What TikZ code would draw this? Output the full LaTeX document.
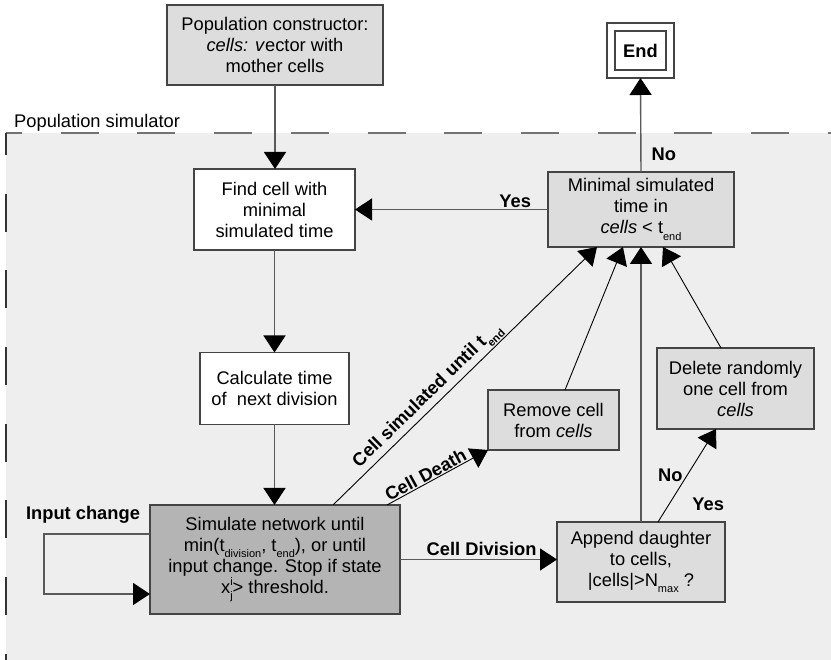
\documentclass[tikz,border=0pt]{standalone}
\usepackage{fontspec}
\setmainfont{Liberation Sans}
\usetikzlibrary{arrows.meta,calc}
\definecolor{bgc}{HTML}{EEEEEE}
\definecolor{boxl}{HTML}{DDDDDD}
\definecolor{boxd}{HTML}{B4B4B4}
\definecolor{edge}{HTML}{444444}
\newcommand{\lsub}[1]{\raisebox{-0.35em}{\fontsize{11}{11}\selectfont #1}}
\newcommand{\lsup}[1]{\raisebox{0.45em}{\fontsize{11}{11}\selectfont #1}}
\begin{document}
\begin{tikzpicture}[x=1pt,y=-1pt,
  font=\fontsize{18.3}{21}\selectfont,
  box/.style={draw=edge,line width=1.3pt,align=center,inner sep=0pt,outer sep=0pt},
  conn/.style={draw=black!65,line width=1.4pt,-{Triangle[length=17pt,width=22pt,color=black]}},
  thin/.style={draw=black,line width=0.9pt,-{Triangle[length=17pt,width=22pt,color=black]}},
  lbl/.style={font=\fontsize{18.3}{21}\selectfont\bfseries,inner sep=1pt}]
\useasboundingbox (0,0) rectangle (831,660);
% simulator area
\fill[bgc] (6,133) rectangle (831,660);
\draw[black!55,line width=1.6pt,dash pattern=on 38pt off 38.7pt,dash phase=22pt] (6,133) -- (831,133);
\draw[black!80,line width=1.6pt,dash pattern=on 38pt off 38.7pt,dash phase=16pt] (6,133) -- (6,660);
\node[anchor=west,inner sep=0pt] (psim) at (14,123) {Population simulator};
% nodes
\node[box,fill=boxl,minimum width=216,minimum height=80] (pop) at (275,45)
  {Population constructor:\\\textit{cells: v}ector with\\mother cells};
\node[box,fill=white,minimum width=67,minimum height=55] (endo) at (640.5,50.5) {};
\node[box,fill=white,minimum width=51,minimum height=39,font=\fontsize{18.3}{21}\selectfont\bfseries] (endi) at (endo.center) {End};
\node[box,fill=boxl,minimum width=186,minimum height=75] (minst) at (641,209.5)
  {Minimal simulated\\time in\\\textit{cells} < t\lsub{end}};
\node[box,fill=white,minimum width=161,minimum height=81] (find) at (274.5,209.5)
  {Find cell with\\minimal\\simulated time};
\node[box,fill=white,minimum width=149,minimum height=72] (calc) at (274.5,388.5)
  {Calculate time\\of~ next division};
\node[box,fill=boxd,minimum width=250,minimum height=109] (sim) at (275,559.5)
  {Simulate network until\\min(t\lsub{division}, t\lsub{end}), or until\\input change. Stop if state\\x\rlap{\lsup{i}}\lsub{j}> threshold.};
\node[box,fill=boxl,minimum width=131,minimum height=60] (rem) at (553.5,420)
  {Remove cell\\from \textit{cells}};
\node[box,fill=boxl,minimum width=157,minimum height=81] (del) at (735.5,388.5)
  {Delete randomly\\one cell from\\\textit{cells}};
\node[box,fill=boxl,minimum width=168,minimum height=80] (app) at (641,562)
  {Append daughter\\to cells,\\|cells|>N\lsub{max} ?};
% connectors
\draw[conn] (pop.south) -- (pop.south |- find.north);
\draw[conn] (find.south) -- (find.south |- calc.north);
\draw[conn] (calc.south) -- (calc.south |- sim.north);
\draw[conn] (minst.north) -- (endo.south) node[lbl,right=9pt,pos=0.19] {No};
\draw[conn] (minst.west) -- (minst.west -| find.east) node[lbl,above,pos=0.17] {Yes};
\draw[conn] (sim.east) -- (sim.east -| app.west) node[lbl,above,pos=0.52,yshift=2pt] {Cell Division};
\draw[conn] (app.north) -- (app.north |- minst.south);
\coordinate (a1) at ($(app.north)+(17,0)$);
\coordinate (d1) at ($(del.south west)+(59,0)$);
\draw[thin] (a1) -- (d1)
  node[lbl,left=3pt,pos=0.5] {No}
  node[lbl,right=22pt,pos=0.19] {Yes};
\coordinate (d2) at ($(del.north west)+(64,0)$);
\coordinate (m4) at ($(minst.south west)+(115,0)$);
\draw[thin] (d2) -- (m4);
\coordinate (r1) at ($(rem.north west)+(77,0)$);
\coordinate (m2) at ($(minst.south west)+(75,0)$);
\draw[thin] (r1) -- (m2);
\coordinate (s1) at ($(sim.north west)+(183,0)$);
\coordinate (m1) at ($(minst.south west)+(49,0)$);
\draw[thin] (s1) -- (m1) node[lbl,sloped,above,pos=0.39] {Cell simulated until t\lsub{end}};
\coordinate (s2) at ($(sim.north west)+(237,0)$);
\draw[thin] (s2) -- (rem.south west) node[lbl,sloped,above,pos=0.42] {Cell Death};
\coordinate (l1) at ($(sim.west)+(0,-25.5)$);
\coordinate (l2) at ($(sim.west)+(0,34.5)$);
\draw[conn] (l1) -- ++(-106,0) |- (l2);
\node[lbl] (inch) at (83,515) {Input change};
\end{tikzpicture}
\end{document}
